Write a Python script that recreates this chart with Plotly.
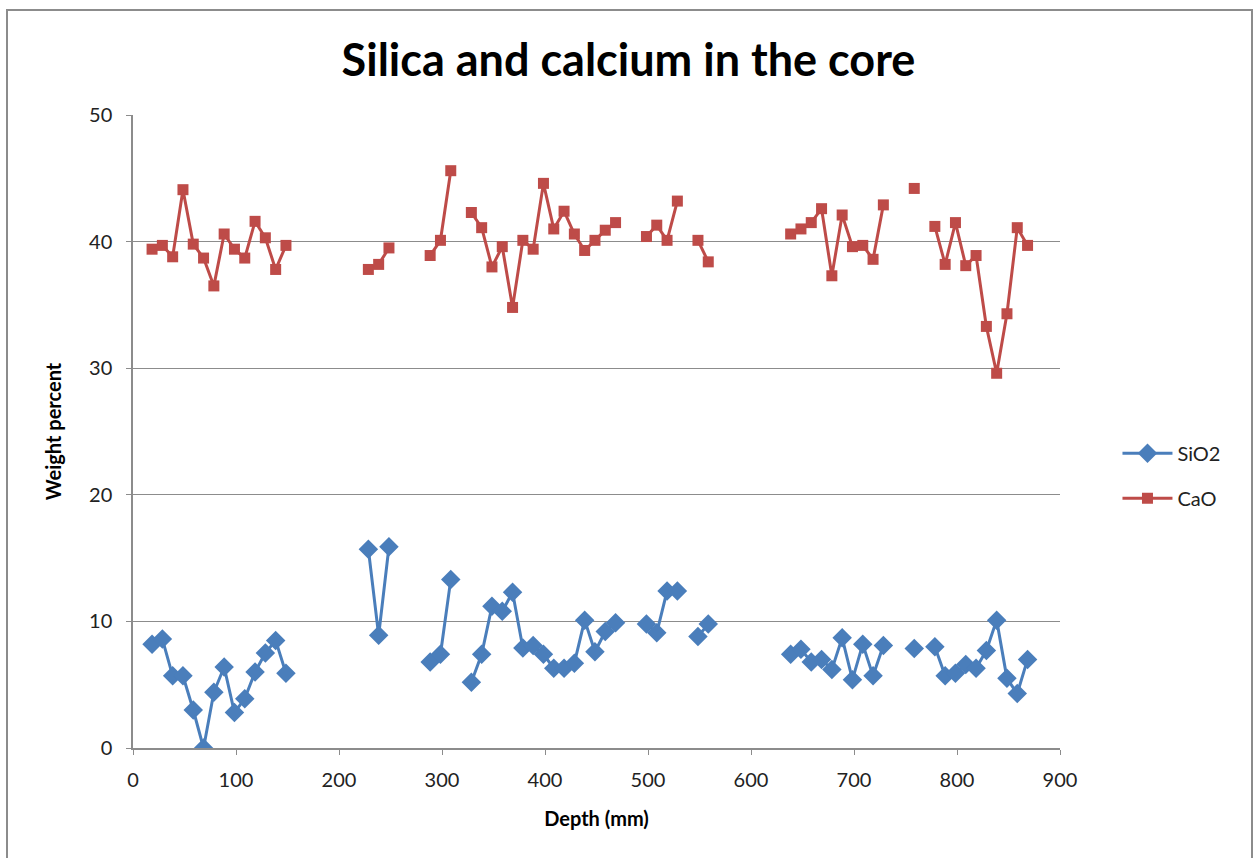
import plotly.graph_objects as go

# Depth (mm); None rows in series mark missing samples (gaps in the lines)
depth = [18.5, 28.5, 38.5, 48.5, 58.5, 68.5, 78.5, 88.5, 98.5, 108.5,
         118.5, 128.5, 138.5, 148.5, 158.5, 168.5, 178.5, 188.5, 198.5, 208.5,
         218.5, 228.5, 238.5, 248.5, 258.5, 268.5, 278.5, 288.5, 298.5, 308.5,
         318.5, 328.5, 338.5, 348.5, 358.5, 368.5, 378.5, 388.5, 398.5, 408.5,
         418.5, 428.5, 438.5, 448.5, 458.5, 468.5, 478.5, 488.5, 498.5, 508.5,
         518.5, 528.5, 538.5, 548.5, 558.5, 568.5, 578.5, 588.5, 598.5, 608.5,
         618.5, 628.5, 638.5, 648.5, 658.5, 668.5, 678.5, 688.5, 698.5, 708.5,
         718.5, 728.5, 738.5, 748.5, 758.5, 768.5, 778.5, 788.5, 798.5, 808.5,
         818.5, 828.5, 838.5, 848.5, 858.5, 868.5]

sio2 = [8.2, 8.6, 5.7, 5.7, 3.0, 0.0, 4.4, 6.4, 2.8, 3.9,
        6.0, 7.5, 8.5, 5.9, None, None, None, None, None, None,
        None, 15.7, 8.9, 15.9, None, None, None, 6.8, 7.4, 13.3,
        None, 5.2, 7.4, 11.2, 10.8, 12.3, 7.9, 8.1, 7.4, 6.3,
        6.3, 6.7, 10.1, 7.6, 9.2, 9.9, None, None, 9.8, 9.1,
        12.4, 12.4, None, 8.8, 9.8, None, None, None, None, None,
        None, None, 7.4, 7.8, 6.8, 7.0, 6.2, 8.7, 5.4, 8.2,
        5.7, 8.1, None, None, 7.85, None, 8.0, 5.7, 5.9, 6.6,
        6.3, 7.7, 10.1, 5.5, 4.3, 7.0]

cao = [39.4, 39.7, 38.8, 44.1, 39.8, 38.7, 36.5, 40.6, 39.4, 38.7,
       41.6, 40.3, 37.8, 39.7, None, None, None, None, None, None,
       None, 37.8, 38.2, 39.5, None, None, None, 38.9, 40.1, 45.6,
       None, 42.3, 41.1, 38.0, 39.6, 34.8, 40.1, 39.4, 44.6, 41.0,
       42.4, 40.6, 39.3, 40.1, 40.9, 41.5, None, None, 40.4, 41.3,
       40.1, 43.2, None, 40.1, 38.4, None, None, None, None, None,
       None, None, 40.6, 41.0, 41.5, 42.6, 37.3, 42.1, 39.6, 39.7,
       38.6, 42.9, None, None, 44.2, None, 41.2, 38.2, 41.5, 38.1,
       38.9, 33.3, 29.6, 34.3, 41.1, 39.7]

x_ticks = [0, 100, 200, 300, 400, 500, 600, 700, 800, 900]
y_ticks = [0, 10, 20, 30, 40, 50]

FONT = "Lato, 'Open Sans', sans-serif"
BLUE = "#4A7EBB"
RED = "#BE4B48"
GRID = "#8C8C8C"

fig = go.Figure()
fig.add_trace(go.Scatter(
    x=depth, y=sio2, name="SiO2", mode="lines+markers", legendgroup="s",
    line=dict(color=BLUE, width=3),
    marker=dict(symbol="diamond", size=15, color=BLUE),
    connectgaps=False,
))
fig.add_trace(go.Scatter(
    x=depth, y=cao, name="CaO", mode="lines+markers", legendgroup="c",
    line=dict(color=RED, width=3),
    marker=dict(symbol="square", size=11, color=RED),
    connectgaps=False,
))

fig.update_layout(
    width=1257, height=858,
    margin=dict(l=133, r=197, t=115, b=110),
    paper_bgcolor="white", plot_bgcolor="white",
    font=dict(family=FONT, size=20, color="#222222"),
    title=dict(text="<b>Silica and calcium in the core</b>",
               x=0.5, xref="container", xanchor="center",
               y=1 - 60 / 858, yref="container", yanchor="middle",
               font=dict(family=FONT, size=45, color="black")),
    xaxis=dict(range=[0, 900], tickvals=x_ticks, showgrid=False,
               showline=True, linecolor=GRID, linewidth=1.5,
               ticks="outside", ticklen=5, tickcolor=GRID,
               ticklabelstandoff=8,
               zeroline=False,
               title=dict(text="<b>Depth (mm)</b>", standoff=22,
                          font=dict(size=20, color="black"))),
    yaxis=dict(range=[0, 50], tickvals=y_ticks, showgrid=True,
               gridcolor=GRID, gridwidth=1.2,
               showline=True, linecolor=GRID, linewidth=1.5,
               ticks="outside", ticklen=5, tickcolor=GRID,
               ticklabelstandoff=10,
               zeroline=False,
               title=dict(text="<b>Weight percent</b>", standoff=22,
                          font=dict(size=20, color="black"))),
    legend=dict(x=1.062, y=0.43, xanchor="left", yanchor="middle",
                font=dict(size=20, color="#222222"),
                traceorder="grouped", tracegroupgap=16, itemwidth=50,
                bgcolor="rgba(0,0,0,0)"),
    showlegend=True,
)

# outer chart frame (as in the original chart object border)
fig.add_shape(type="rect", xref="paper", yref="paper",
              x0=(7 - 133) / 927, x1=(1252 - 133) / 927,
              y0=(748 - 880) / 633, y1=(748 - 10) / 633,
              line=dict(color="#8C8C8C", width=2), fillcolor="rgba(0,0,0,0)",
              layer="below")

fig.write_html("out.html")
